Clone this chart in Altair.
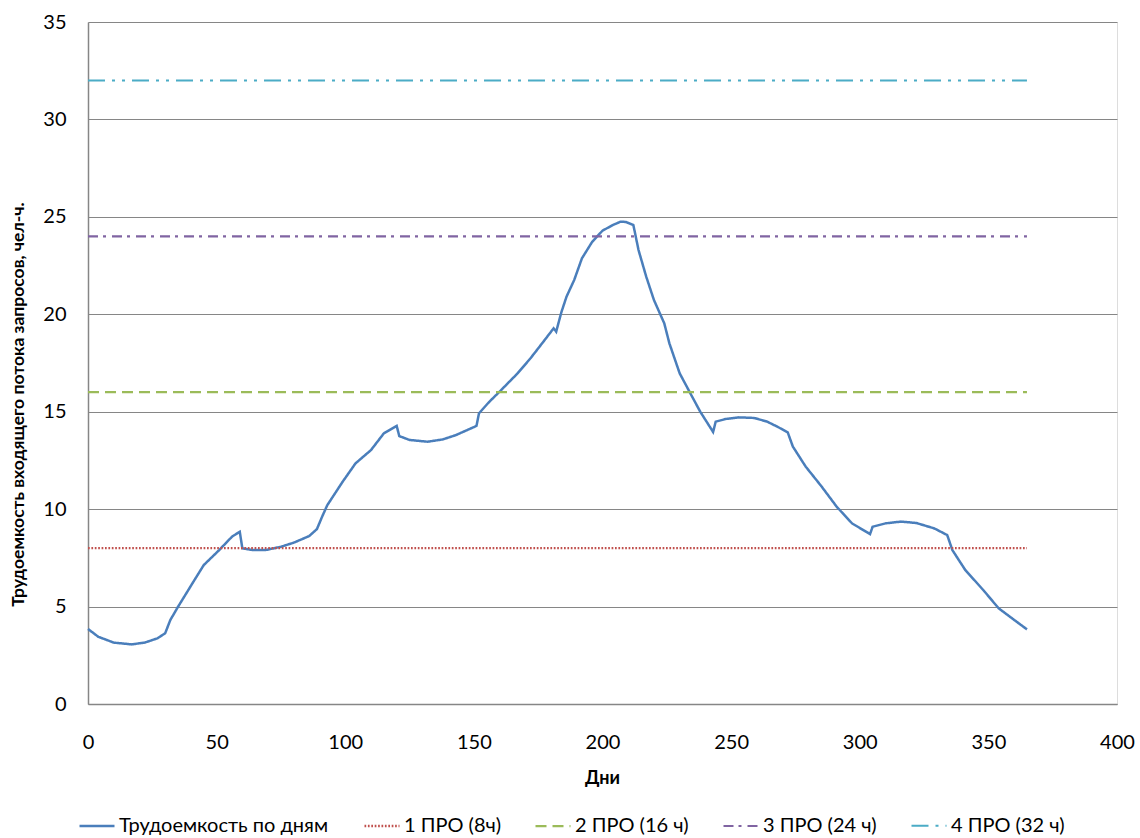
import altair as alt
import pandas as pd

# Daily workload of incoming requests (person-hours) over the year
days = [0, 4, 10, 17, 22, 27, 30, 32, 35, 41, 45, 51, 56, 59, 60, 64, 69, 75, 80, 86,
        89, 91, 93, 99, 104, 110, 115, 120, 121, 125, 132, 138, 143, 151, 152, 156, 160,
        167, 172, 177, 181, 182, 184, 186, 189, 192, 196, 200, 204, 207, 209, 212, 214,
        217, 220, 224, 226, 230, 234, 238, 243, 244, 248, 253, 259, 264, 268, 272, 274,
        279, 285, 291, 297, 304, 305, 310, 316, 322, 329, 334, 336, 341, 348, 354, 361, 365]
workload = [3.85, 3.45, 3.15, 3.06, 3.15, 3.37, 3.63, 4.31, 4.99, 6.28, 7.13, 7.90, 8.59,
            8.84, 7.99, 7.90, 7.90, 8.07, 8.28, 8.62, 8.98, 9.61, 10.2, 11.41, 12.35, 13.03,
            13.89, 14.27, 13.75, 13.55, 13.46, 13.58, 13.80, 14.27, 14.92, 15.51, 16.03,
            16.97, 17.74, 18.59, 19.28, 19.11, 20.1, 20.9, 21.76, 22.87, 23.72, 24.29, 24.58,
            24.75, 24.74, 24.58, 23.30, 21.93, 20.73, 19.54, 18.51, 16.97, 15.98, 15.0, 13.96,
            14.49, 14.63, 14.71, 14.68, 14.49, 14.23, 13.94, 13.21, 12.18, 11.19, 10.13, 9.27,
            8.72, 9.10, 9.27, 9.36, 9.29, 9.01, 8.67, 7.90, 6.88, 5.85, 4.91, 4.22, 3.83]

# Maintenance-crew capacity levels
levels = ["1 ПРО (8ч)", "2 ПРО (16 ч)", "3 ПРО (24 ч)", "4 ПРО (32 ч)"]
level_values = [8, 16, 24, 32]
level_span = [0, 365]

main_name = "Трудоемкость по дням"
series = [main_name] + levels
colors = ["#4A7EBB", "#C0504D", "#9BBB59", "#8064A2", "#4BACC6"]
dashes = [[1, 0], [1.7, 1.7], [11, 6], [10, 5, 3, 6], [17, 7, 3, 7, 3, 7]]
widths = [2.5, 2, 2, 2, 2]

rows = [{"day": d, "value": v, "series": main_name, "order": i}
        for i, (d, v) in enumerate(zip(days, workload))]
for name, val in zip(levels, level_values):
    for i, d in enumerate(level_span):
        rows.append({"day": d, "value": val, "series": name, "order": i})
df = pd.DataFrame(rows)

FONT = "Lato"
GRID = "#868686"
TICK_FS = 20


def legend_spec():
    return alt.Legend(title=None, orient="none", direction="horizontal", columns=5,
                      legendX=-10, legendY=785, symbolType="stroke", symbolSize=1225,
                      symbolStrokeWidth=2.2, labelFont=FONT, labelFontSize=20,
                      labelColor="#000000", labelOffset=3, columnPadding=30,
                      labelLimit=400)


chart = alt.Chart(df).mark_line().encode(
    x=alt.X("day:Q",
            scale=alt.Scale(domain=[0, 400], nice=False, zero=False),
            axis=alt.Axis(title="Дни", values=list(range(0, 401, 50)), grid=False,
                          ticks=False, tickSize=0, labelPadding=28, labelFontSize=TICK_FS,
                          labelFlush=False, labelOverlap=False,
                          labelFont=FONT, labelColor="#000000",
                          titleFont=FONT, titleFontSize=18, titleFontWeight="bold",
                          titleColor="#000000", titleX=514, titleY=74,
                          titleBaseline="middle",
                          domainColor=GRID, domainWidth=1.5)),
    y=alt.Y("value:Q",
            scale=alt.Scale(domain=[0, 35], nice=False),
            axis=alt.Axis(title="Трудоемкость входящего потока запросов, чел-ч.",
                          values=list(range(0, 36, 5)), grid=True, gridColor=GRID,
                          gridWidth=1, ticks=False, tickSize=0, labelPadding=22,
                          labelFlush=False, labelOverlap=False,
                          labelFontSize=TICK_FS, labelFont=FONT, labelColor="#000000",
                          titleFont=FONT, titleFontSize=17.5, titleFontWeight="bold",
                          titleColor="#000000", titleX=-70, titleY=382,
                          titleAlign="center", titleBaseline="middle",
                          domainColor=GRID, domainWidth=1.5)),
    color=alt.Color("series:N", scale=alt.Scale(domain=series, range=colors),
                    legend=legend_spec()),
    strokeDash=alt.StrokeDash("series:N", scale=alt.Scale(domain=series, range=dashes),
                              legend=legend_spec()),
    strokeWidth=alt.StrokeWidth("series:N", scale=alt.Scale(domain=series, range=widths),
                                legend=None),
    order="order:Q",
).properties(
    width=1029,
    height=682,
    autosize=alt.AutoSizeParams(type="none"),
    padding={"left": 88, "top": 22, "right": 23, "bottom": 134},
).configure_view(
    stroke=None
).configure(
    background="#ffffff"
)

chart.save("out.html", embed_options={"renderer": "svg", "actions": False})
